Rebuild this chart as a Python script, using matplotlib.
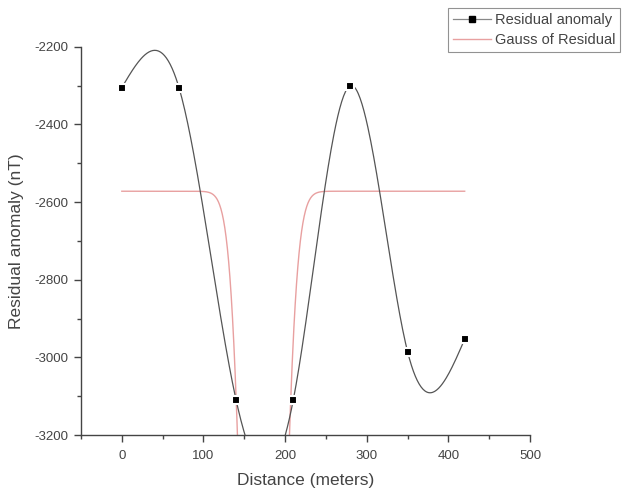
import matplotlib
matplotlib.use("Agg")
import matplotlib.pyplot as plt
import numpy as np

plt.rcParams['font.family'] = ['Liberation Sans', 'DejaVu Sans']
plt.rcParams['axes.unicode_minus'] = False

# measured points
distance = [0, 70, 140, 210, 280, 350, 420]
anomaly = [-2305, -2305, -3110, -3110, -2300, -2985, -2953]

# Gauss fit of the residual (y0, xc, w, A)
gauss_y0 = -2572
gauss_xc = 173.5
gauss_w = 18.0
gauss_A = 3000.0


def natural_spline(x, y, n=60):
    # spline connection between the points, as Origin draws it
    x = np.asarray(x, float)
    y = np.asarray(y, float)
    k = len(x)
    h = np.diff(x)
    M = np.zeros((k, k))
    r = np.zeros(k)
    M[0, 0] = M[-1, -1] = 1
    for i in range(1, k - 1):
        M[i, i - 1] = h[i - 1]
        M[i, i] = 2 * (h[i - 1] + h[i])
        M[i, i + 1] = h[i]
        r[i] = 6 * ((y[i + 1] - y[i]) / h[i] - (y[i] - y[i - 1]) / h[i - 1])
    m = np.linalg.solve(M, r)
    xs, ys = [], []
    for i in range(k - 1):
        t = np.linspace(x[i], x[i + 1], n)
        a = x[i + 1] - t
        b = t - x[i]
        s = (m[i] * a**3 + m[i + 1] * b**3) / (6 * h[i]) \
            + (y[i] / h[i] - m[i] * h[i] / 6) * a \
            + (y[i + 1] / h[i] - m[i + 1] * h[i] / 6) * b
        xs.append(t)
        ys.append(s)
    return np.concatenate(xs), np.concatenate(ys)


fig = plt.figure(figsize=(6.25, 5.01), dpi=100)
ax = fig.add_axes([81 / 625, 66 / 501, 449 / 625, 427 / 501])

sx, sy = natural_spline(distance, anomaly)
ax.plot(sx, sy, color='#555555', lw=0.9, zorder=2)
ax.plot(distance, anomaly, ls='none', marker='s', ms=6, mfc='black',
        mec='white', mew=1.5, zorder=4)

gx = np.linspace(distance[0], distance[-1], 800)
gy = gauss_y0 - gauss_A * np.exp(-(gx - gauss_xc)**2 / (2 * gauss_w**2))
ax.plot(gx, gy, color='#e8a0a0', lw=1.0, zorder=1)

ax.set_xlim(-50, 500)
ax.set_ylim(-3200, -2100)
ax.set_xticks([0, 100, 200, 300, 400, 500])
ax.set_xticks(np.arange(-50, 501, 50), minor=True)
ax.set_yticks(np.arange(-3200, -2199, 200))
ax.set_yticks(np.arange(-3200, -2199, 100), minor=True)
ax.spines['top'].set_visible(False)
ax.spines['right'].set_visible(False)
ax.spines['left'].set_bounds(-3200, -2200)
for s in ['left', 'bottom']:
    ax.spines[s].set_color('#444444')
    ax.spines[s].set_linewidth(1.0)
ax.tick_params(which='major', length=5, width=1, color='#444444',
               labelsize=9.5, labelcolor='#444444')
ax.tick_params(axis='x', which='major', pad=6)
ax.tick_params(axis='y', which='major', pad=4)
ax.tick_params(which='minor', length=3, width=1, color='#444444')

ax.set_xlabel('Distance (meters)', fontsize=12.5, color='#444444', labelpad=8)
ax.set_ylabel('Residual anomaly (nT)', fontsize=12.5, color='#444444')
ax.yaxis.set_label_coords(-0.128, 500 / 1100)

h1, = ax.plot([], [], color='#888888', lw=0.9, marker='s', ms=5, mfc='black',
              mec='black')
h2, = ax.plot([], [], color='#e8a0a0', lw=1.0)
leg = fig.legend([h1, h2], ['Residual anomaly', 'Gauss of Residual'],
                 loc='upper left', bbox_to_anchor=(448 / 625, 1 - 8 / 501),
                 fontsize=10.5, frameon=True, fancybox=False, borderpad=0.35,
                 handlelength=2.6, labelspacing=0.4, handletextpad=0.25,
                 borderaxespad=0)
leg.get_frame().set_edgecolor('#777777')
leg.get_frame().set_linewidth(0.8)
for t in leg.get_texts():
    t.set_color('#444444')

plt.savefig('out.png', dpi=100)
